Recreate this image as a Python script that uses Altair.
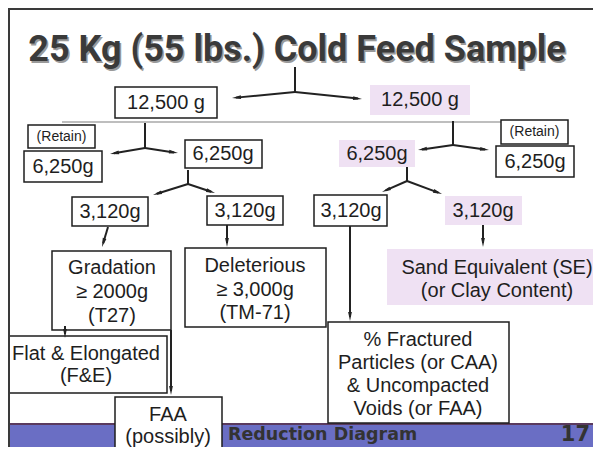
import math
import altair as alt
import pandas as pd

# ---------------- data ----------------
# boxes: label key, x1, x2, y1, y2, kind ("box" = outlined white, "tint" = lavender, no outline)
box_names = ["12500L", "12500R", "retainL", "6250L", "6250M", "6250P", "retainR", "6250R",
             "3120a", "3120b", "3120c", "3120P", "grad", "delet", "se", "fract", "flat", "faa"]
box_x1 = [115, 370, 28, 24, 185, 339, 501, 496, 72, 207, 314, 445, 52, 185, 387, 328, 4, 115]
box_x2 = [217, 470, 95, 102, 262, 415, 568, 574, 148, 283, 387, 522, 171, 326, 598, 509, 167, 222]
box_y1 = [87, 85, 125, 151, 140, 140, 120, 146, 197, 196, 195, 196, 251, 248, 249, 322, 336, 397]
box_y2 = [118, 115, 148, 182, 168, 167, 144, 177, 226, 225, 226, 225, 330, 327, 305, 423, 393, 453]
box_kind = ["box", "tint", "box", "box", "box", "tint", "box", "box", "box", "box", "box", "tint",
            "box", "box", "tint", "box", "box", "box"]

# text lines inside boxes
line_text = ["12,500 g", "12,500 g", "6,250g", "6,250g", "6,250g", "6,250g",
             "3,120g", "3,120g", "3,120g", "3,120g",
             "Gradation", "≥ 2000g", "(T27)",
             "Deleterious", "≥ 3,000g", "(TM-71)",
             "Sand Equivalent (SE)", "(or Clay Content)",
             "% Fractured", "Particles (or CAA)", "& Uncompacted", "Voids (or FAA)",
             "Flat & Elongated", "(F&E)",
             "FAA", "(possibly)"]
line_x = [166, 420, 63, 223, 377, 535,
          110, 245, 351, 483,
          112, 112, 112,
          255, 255, 255,
          497, 497,
          418, 418, 418, 418,
          86, 86,
          168, 168]
line_y = [103, 100, 167, 154, 154, 162,
          212, 211, 211, 211,
          268, 292, 316,
          266, 290, 313,
          268, 291,
          340, 363, 386, 409,
          354, 376,
          415, 437]

small_text = ["(Retain)", "(Retain)"]
small_x = [61.5, 534.5]
small_y = [137, 132]

# connector lines without head: x0, y0, x1, y1
stem_x0 = [295, 145, 453, 188, 407]
stem_y0 = [67, 123, 121, 170, 167]
stem_x1 = [295, 145, 453, 188, 407]
stem_y1 = [92, 148, 145, 184, 181]

# arrows: start -> tip
arr_x0 = [295, 295, 145, 145, 453, 453, 188, 188, 407, 407, 108, 227, 350, 483, 65, 171]
arr_y0 = [92, 92, 148, 148, 145, 145, 184, 184, 181, 181, 227, 225, 226, 225, 326, 330]
arr_x1 = [232, 362, 110, 178, 418, 489, 153, 215, 382, 442, 102, 227, 350, 483, 65, 171]
arr_y1 = [98, 99, 154, 153, 150, 150, 195, 193, 192, 194, 247, 247, 321, 247, 338, 395]

title_text = "25 Kg (55 lbs.) Cold Feed Sample"
footer_text = "Reduction Diagram"
page_number = "17"

# ---------------- build tables ----------------
boxes = pd.DataFrame({"name": box_names, "x1": box_x1, "x2": box_x2,
                      "y1": box_y1, "y2": box_y2, "kind": box_kind})
lines = pd.DataFrame({"t": line_text, "x": line_x, "y": line_y})
smalls = pd.DataFrame({"t": small_text, "x": small_x, "y": small_y})
stems = pd.DataFrame({"x": stem_x0, "y": stem_y0, "x2": stem_x1, "y2": stem_y1})

HEAD = 9.0
rows_line, rows_head = [], []
for x0, y0, x1, y1 in zip(arr_x0, arr_y0, arr_x1, arr_y1):
    dx, dy = x1 - x0, y1 - y0
    d = math.hypot(dx, dy)
    ux, uy = dx / d, dy / d
    rows_line.append({"x": x0, "y": y0, "x2": x1 - ux * 4, "y2": y1 - uy * 4})
    ang = math.degrees(math.atan2(dx, -dy)) % 360
    rows_head.append({"x": x1 - ux * HEAD / 2, "y": y1 - uy * HEAD / 2, "a": ang})
arrow_lines = pd.DataFrame(rows_line)
heads = pd.DataFrame(rows_head)

xs = alt.Scale(domain=[8, 593], nice=False, zero=False)
ys = alt.Scale(domain=[8, 447], nice=False, zero=False, reverse=True)
X = lambda f: alt.X(f, type="quantitative", scale=xs, axis=None)
Y = lambda f: alt.Y(f, type="quantitative", scale=ys, axis=None)

# frame lines
frame = pd.DataFrame({"x": [0, 9], "y": [9, 9], "x2": [601, 9], "y2": [9, 455]})
frame_layer = alt.Chart(frame).mark_rule(color="#3a3a3a", strokeWidth=2).encode(
    x=X("x"), y=Y("y"), x2="x2", y2="y2")

sep = pd.DataFrame({"x": [62], "y": [122], "x2": [567], "y2": [122]})
sep_layer = alt.Chart(sep).mark_rule(color="#a8a8a8", strokeWidth=1.5).encode(
    x=X("x"), y=Y("y"), x2="x2", y2="y2")

footer = pd.DataFrame({"x": [0], "x2": [601], "y": [424], "y2": [460]})
footer_layer = alt.Chart(footer).mark_rect(color="#6a6ec4").encode(
    x=X("x"), x2="x2", y=Y("y"), y2="y2")
footer_edge = alt.Chart(pd.DataFrame({"x": [0], "x2": [601], "y": [424], "y2": [424]})).mark_rule(
    color="#5a3a5e", strokeWidth=2).encode(x=X("x"), x2="x2", y=Y("y"), y2="y2")

tint_layer = alt.Chart(boxes[boxes.kind == "tint"]).mark_rect(color="#efe1f3").encode(
    x=X("x1"), x2="x2", y=Y("y1"), y2="y2")
box_layer = alt.Chart(boxes[boxes.kind == "box"]).mark_rect(
    fill="white", stroke="#1e1e1e", strokeWidth=1.5).encode(
    x=X("x1"), x2="x2", y=Y("y1"), y2="y2")

stem_layer = alt.Chart(stems).mark_rule(color="#222", strokeWidth=2).encode(
    x=X("x"), y=Y("y"), x2="x2", y2="y2")
arrow_layer = alt.Chart(arrow_lines).mark_rule(color="#222", strokeWidth=2).encode(
    x=X("x"), y=Y("y"), x2="x2", y2="y2")
head_layer = alt.Chart(heads).mark_point(
    shape="M0,-1L0.42,1L-0.42,1Z", size=HEAD * HEAD, filled=True, color="#222", opacity=1
).encode(x=X("x"), y=Y("y"), angle=alt.Angle("a:Q", scale=None))

text_layer = alt.Chart(lines).mark_text(
    font="Liberation Sans", fontSize=20, color="#1e1e1e", align="center", baseline="middle"
).encode(x=X("x"), y=Y("y"), text="t:N")
small_layer = alt.Chart(smalls).mark_text(
    font="Liberation Sans", fontSize=14, color="#1e1e1e", align="center", baseline="middle"
).encode(x=X("x"), y=Y("y"), text="t:N")

title_df = pd.DataFrame({"t": [title_text], "x": [297], "y": [61]})
title_shadow = alt.Chart(title_df).transform_calculate(xx="datum.x + 1.5", yy="datum.y + 1.5").mark_text(
    font="Roboto", fontWeight="bold", fontSize=36, color="#9a9a9a", align="center", baseline="alphabetic"
).encode(x=X("xx"), y=Y("yy"), text="t:N")
title_layer = alt.Chart(title_df).mark_text(
    font="Roboto", fontWeight="bold", fontSize=36, color="#3a3a3a", align="center", baseline="alphabetic"
).encode(x=X("x"), y=Y("y"), text="t:N")

foot_df = pd.DataFrame({"t": [footer_text, page_number], "x": [228, 590], "y": [435, 435]})
foot_text = alt.Chart(foot_df.iloc[[0]]).mark_text(
    font="DejaVu Sans", fontWeight="bold", fontSize=17.5, color="#333333", align="left", baseline="middle"
).encode(x=X("x"), y=Y("y"), text="t:N")
page_text = alt.Chart(foot_df.iloc[[1]]).mark_text(
    font="DejaVu Sans", fontWeight="bold", fontSize=21, color="#333333", align="right", baseline="middle"
).encode(x=X("x"), y=Y("y"), text="t:N")

chart = alt.layer(
    footer_layer, footer_edge, sep_layer, tint_layer, box_layer,
    stem_layer, arrow_layer, head_layer, frame_layer, text_layer, small_layer,
    title_shadow, title_layer, foot_text, page_text
).properties(
    width=585, height=439, padding=0, background="white",
    autosize=alt.AutoSizeParams(type="none")
).configure_view(stroke=None)

chart.save("out.html", embed_options={"renderer": "svg", "actions": False})
